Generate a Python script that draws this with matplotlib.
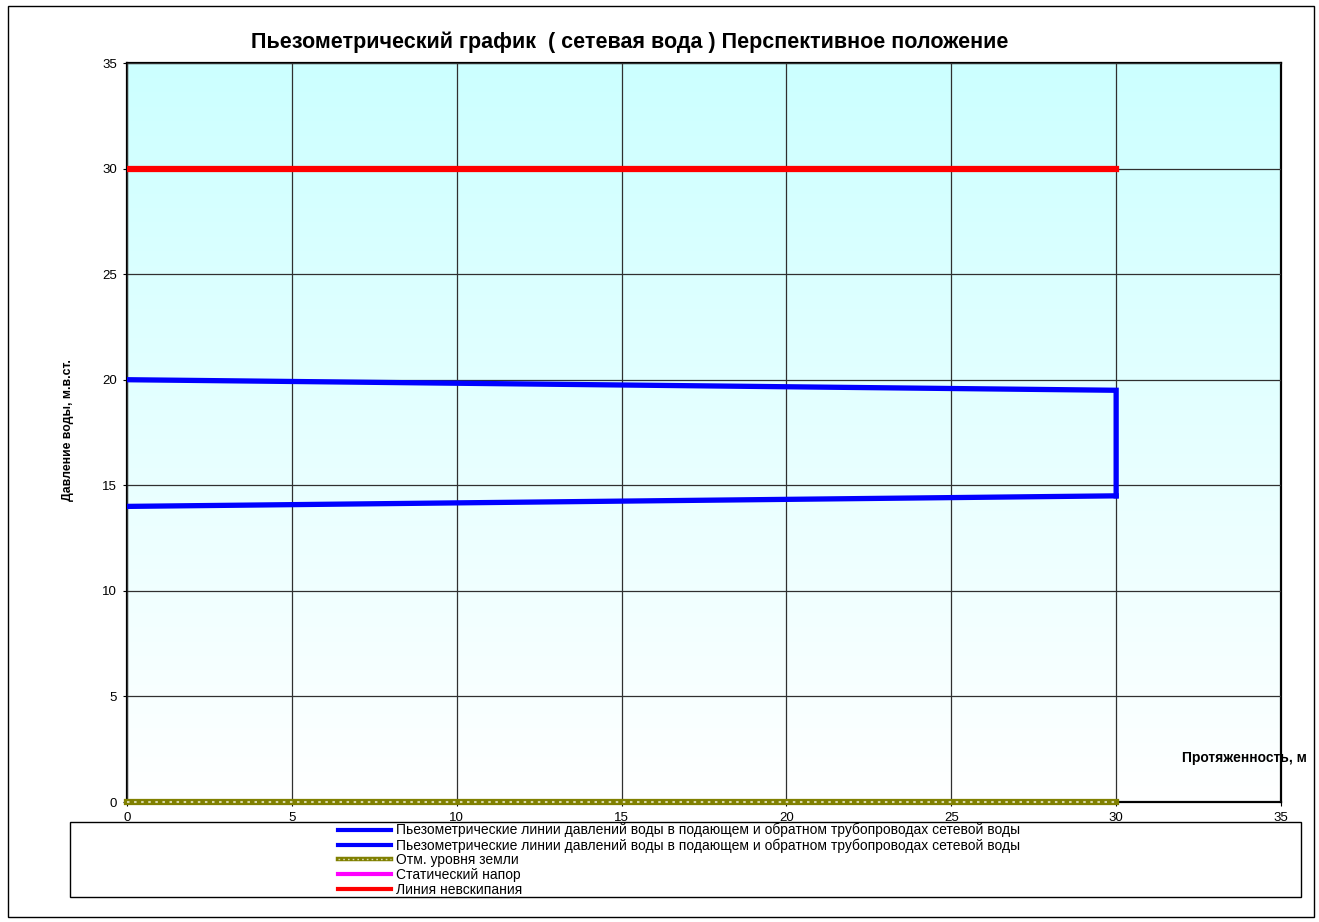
import matplotlib
matplotlib.use("Agg")
import matplotlib.pyplot as plt
import numpy as np
from matplotlib.patches import Rectangle
from matplotlib.lines import Line2D

plt.rcParams['font.family'] = ['Liberation Sans', 'DejaVu Sans']

# data
supply_x = [0, 30, 30]
supply_y = [20, 19.5, 14.5]
return_x = [0, 30]
return_y = [14, 14.5]
ground_x = [0, 30]
ground_y = [0, 0]
static_x = []
static_y = []
boil_x = [0, 30]
boil_y = [30, 30]

labels = [
    "Пьезометрические линии давлений воды в подающем и обратном трубопроводах сетевой воды",
    "Пьезометрические линии давлений воды в подающем и обратном трубопроводах сетевой воды",
    "Отм. уровня земли",
    "Статический напор",
    "Линия невскипания",
]


def main():
    fig = plt.figure(figsize=(13.19, 9.22), dpi=100)
    ax = fig.add_axes([127 / 1319, 1 - 802 / 922, 1154 / 1319, 739 / 922])

    # gradient background (cyan at top to white at bottom)
    grad = np.linspace(0, 1, 256).reshape(-1, 1)
    top = np.array([0.80, 1.0, 1.0])
    bot = np.array([1.0, 1.0, 1.0])
    img = top * (1 - grad[..., None]) + bot * grad[..., None]
    img = img.reshape(256, 1, 3)
    ax.imshow(img, extent=[0, 35, 0, 35], aspect='auto', origin='upper', zorder=0)

    ax.set_xlim(0, 35)
    ax.set_ylim(0, 35)
    ax.set_xticks(range(0, 36, 5))
    ax.set_yticks(range(0, 36, 5))
    ax.grid(True, color='#303030', linewidth=0.9, zorder=1)
    ax.set_axisbelow(False)
    ax.tick_params(labelsize=9.5, length=3, direction='out', width=0.8, pad=4)
    for s in ax.spines.values():
        s.set_linewidth(1.6)
        s.set_color('black')

    ax.plot(supply_x, supply_y, color='#0000FF', linewidth=3.8, zorder=3,
            solid_joinstyle='miter')
    ax.plot(return_x, return_y, color='#0000FF', linewidth=3.8, zorder=3)
    # ground level: olive line with light dots
    ax.plot(ground_x, ground_y, color='#808000', linewidth=4.5, zorder=3, clip_on=False)
    ax.plot(ground_x, ground_y, color='#D8D8A8', linewidth=1.5, linestyle=(0, (1.2, 2.2)),
            zorder=4, clip_on=False)
    ax.plot(static_x, static_y, color='#FF00FF', linewidth=3, zorder=3)
    ax.plot(boil_x, boil_y, color='#FF0000', linewidth=4.5, zorder=3)

    fig.text(630 / 1319, 1 - 42 / 922,
             "Пьезометрический график  ( сетевая вода ) Перспективное положение",
             ha='center', va='center', fontsize=15.5, fontweight='bold')
    fig.text(68 / 1319, 1 - 430 / 922, "Давление воды, м.в.ст.", rotation=90,
             ha='center', va='center', fontsize=8.8, fontweight='bold')
    fig.text(1244 / 1319, 1 - 758 / 922, "Протяженность, м",
             ha='center', va='center', fontsize=10, fontweight='bold')

    # legend box
    fig.patches.append(Rectangle((70 / 1319, 1 - 897 / 922), 1231 / 1319, 75 / 922,
                                 transform=fig.transFigure, fill=False,
                                 edgecolor='black', linewidth=1))
    # outer border
    fig.patches.append(Rectangle((8 / 1319, 1 - 917 / 922), 1306 / 1319, 911 / 922,
                                 transform=fig.transFigure, fill=False,
                                 edgecolor='black', linewidth=1))

    h1 = Line2D([], [], color='#0000FF', linewidth=3)
    h2 = Line2D([], [], color='#0000FF', linewidth=3)
    h3a = Line2D([], [], color='#808000', linewidth=3.2)
    h3b = Line2D([], [], color='#D8D8A8', linewidth=1, linestyle=(0, (1.2, 2.2)))
    h4 = Line2D([], [], color='#FF00FF', linewidth=3)
    h5 = Line2D([], [], color='#FF0000', linewidth=3)
    fig.legend([h1, h2, (h3a, h3b), h4, h5], labels, loc='upper left',
               bbox_to_anchor=(338 / 1319, 1 - 823 / 922), frameon=False,
               fontsize=10, labelspacing=0.05, handlelength=3.8, handletextpad=0.35,
               borderpad=0, borderaxespad=0)

    fig.savefig("out.png", dpi=100)


if __name__ == "__main__":
    main()
